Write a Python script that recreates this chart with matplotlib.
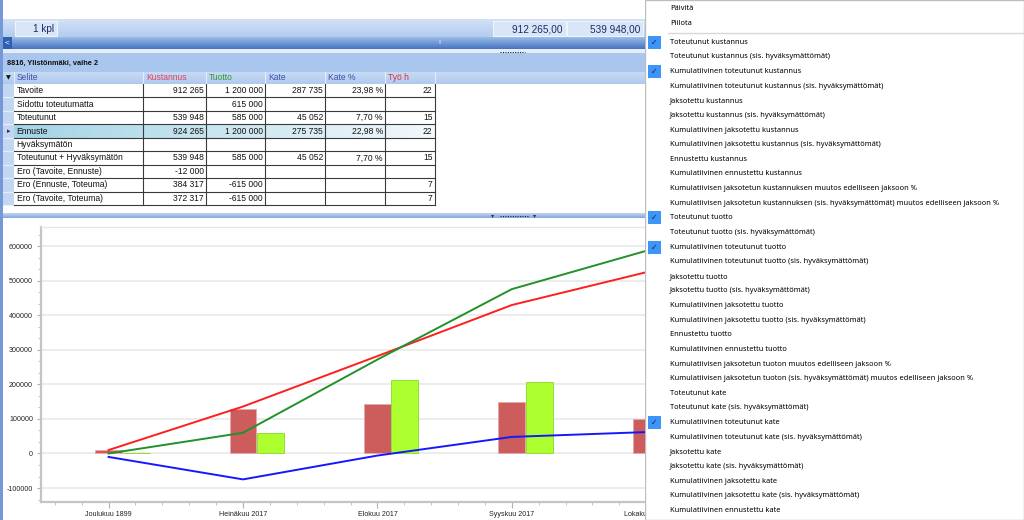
import numpy as np
import matplotlib
matplotlib.use("Agg")
import matplotlib.pyplot as plt
from matplotlib.patches import Rectangle
from matplotlib.colors import LinearSegmentedColormap
from matplotlib.textpath import TextPath
from matplotlib.font_manager import FontProperties
from matplotlib.ticker import MultipleLocator

# chart data
categories = ["Joulukuu 1899", "Heinäkuu 2017", "Elokuu 2017", "Syyskuu 2017", "Lokakuu 2017"]
toteutunut_kustannus = [10000, 128000, 144000, 150000, 99000]
toteutunut_tuotto = [2000, 60000, 212000, 206000, 110000]
kum_kustannus = [10000, 136000, 282000, 430000, 525000]
kum_tuotto = [0, 60000, 272000, 476000, 587000]
kum_kate = [-10000, -75000, -6000, 48000, 62000]

# table data
table_title = "8816, Ylistönmäki, vaihe 2"
columns = ["Selite", "Kustannus", "Tuotto", "Kate", "Kate %", "Työ h"]
column_colors = ["#3e4fa8", "#e2405c", "#2f9a2f", "#3e4fa8", "#3e4fa8", "#e0303c"]
row_labels = ["Tavoite", "Sidottu toteutumatta", "Toteutunut", "Ennuste", "Hyväksymätön",
              "Toteutunut + Hyväksymätön", "Ero (Tavoite, Ennuste)", "Ero (Ennuste, Toteuma)",
              "Ero (Tavoite, Toteuma)"]
kustannus_col = ["912 265", "", "539 948", "924 265", "", "539 948", "-12 000", "384 317", "372 317"]
tuotto_col = ["1 200 000", "615 000", "585 000", "1 200 000", "", "585 000", "", "-615 000", "-615 000"]
kate_col = ["287 735", "", "45 052", "275 735", "", "45 052", "", "", ""]
kate_pct_col = ["23,98 %", "", "7,70 %", "22,98 %", "", "7,70 %", "", "", ""]
tyo_col = ["22", "", "15", "22", "", "15", "", "7", "7"]
selected_row = 3

summary_count = "1 kpl"
summary_values = ["912 265,00", "539 948,00"]

# context menu
menu_top = ["Päivitä", "Piilota"]
menu_items = [
    "Toteutunut kustannus",
    "Toteutunut kustannus (sis. hyväksymättömät)",
    "Kumulatiivinen toteutunut kustannus",
    "Kumulatiivinen toteutunut kustannus (sis. hyväksymättömät)",
    "Jaksotettu kustannus",
    "Jaksotettu kustannus (sis. hyväksymättömät)",
    "Kumulatiivinen jaksotettu kustannus",
    "Kumulatiivinen jaksotettu kustannus (sis. hyväksymättömät)",
    "Ennustettu kustannus",
    "Kumulatiivinen ennustettu kustannus",
    "Kumulatiivisen jaksotetun kustannuksen muutos edelliseen jaksoon %",
    "Kumulatiivisen jaksotetun kustannuksen (sis. hyväksymättömät) muutos edelliseen jaksoon %",
    "Toteutunut tuotto",
    "Toteutunut tuotto (sis. hyväksymättömät)",
    "Kumulatiivinen toteutunut tuotto",
    "Kumulatiivinen toteutunut tuotto (sis. hyväksymättömät)",
    "Jaksotettu tuotto",
    "Jaksotettu tuotto (sis. hyväksymättömät)",
    "Kumulatiivinen jaksotettu tuotto",
    "Kumulatiivinen jaksotettu tuotto (sis. hyväksymättömät)",
    "Ennustettu tuotto",
    "Kumulatiivinen ennustettu tuotto",
    "Kumulatiivisen jaksotetun tuoton muutos edelliseen jaksoon %",
    "Kumulatiivisen jaksotetun tuoton (sis. hyväksymättömät) muutos edelliseen jaksoon %",
    "Toteutunut kate",
    "Toteutunut kate (sis. hyväksymättömät)",
    "Kumulatiivinen toteutunut kate",
    "Kumulatiivinen toteutunut kate (sis. hyväksymättömät)",
    "Jaksotettu kate",
    "Jaksotettu kate (sis. hyväksymättömät)",
    "Kumulatiivinen jaksotettu kate",
    "Kumulatiivinen jaksotettu kate (sis. hyväksymättömät)",
    "Kumulatiivinen ennustettu kate",
]
checked_items = [0, 2, 12, 14, 26]

W, H, DPI = 1024, 520, 100
UI_FONT = "Liberation Sans"
MENU_FONT = "Noto Sans"


def fit_size(text, target_px, family, weight="normal"):
    # font size (pt) that makes text about target_px wide
    w = TextPath((0, 0), text, size=10, prop=FontProperties(family=family, weight=weight)).get_extents().width
    return 10 * target_px / (w * DPI / 72)


table_fs = fit_size("Toteutunut + Hyväksymätön", 105, UI_FONT)
title_fs = fit_size(table_title, 90, UI_FONT, "bold")
top_fs = fit_size("912 265,00", 49, UI_FONT)
chart_fs = fit_size("Joulukuu 1899", 46, UI_FONT)
menu_fs = fit_size(menu_items[11], 327, MENU_FONT)


def px_axes(x0, y0, x1, y1, z=0):
    a = fig.add_axes([x0 / W, 1 - y1 / H, (x1 - x0) / W, (y1 - y0) / H])
    a.set_zorder(z)
    return a


def grad(ax, x0, y0, x1, y1, c0, c1, horizontal=False):
    g = np.linspace(0, 1, 64)
    g = g.reshape(1, -1) if horizontal else g.reshape(-1, 1)
    cmap = LinearSegmentedColormap.from_list("g", [c0, c1])
    ax.imshow(g, cmap=cmap, extent=(x0, x1, y1, y0), aspect="auto", interpolation="bilinear", zorder=1)


def rect(ax, x0, y0, x1, y1, fc, ec="none", lw=0.0, z=1):
    ax.add_patch(Rectangle((x0, y0), x1 - x0, y1 - y0, facecolor=fc, edgecolor=ec, linewidth=lw, zorder=z))


fig = plt.figure(figsize=(W / DPI, H / DPI), dpi=DPI)
fig.patch.set_facecolor("white")

# ---- window background ----
bg = px_axes(0, 0, W, H)
bg.set_axis_off()

rect(bg, 0, 0, 3, H, "#7598d8")

# summary bar
grad(bg, 3, 19, 645, 37, "#d2e1f6", "#b4ccef")
for x0, x1, txt in [(15, 57, summary_count), (493, 566, summary_values[0]), (567, 643, summary_values[1])]:
    rect(bg, x0, 21, x1, 36, "#d9e6f8", "#eef4fc", 0.8, z=2)
    bg.text(x1 - 3, 29, txt, ha="right", va="center", fontsize=top_fs, family=UI_FONT, color="#1e2a66", zorder=3)

# scroll bar
grad(bg, 3, 37, 645, 49, "#9bbcea", "#4674bf")
rect(bg, 3, 37, 12, 49, "#2f5fb3", z=2)
bg.text(7.5, 43, "<", ha="center", va="center", fontsize=6, color="white", family=UI_FONT, zorder=3)
bg.text(440, 43, "II", ha="center", va="center", fontsize=4, color="#c9dbf6", family=UI_FONT, zorder=3)

# splitter
rect(bg, 3, 49, 645, 53, "#e4edf9")
bg.plot([500, 525], [51.5, 51.5], color="#222222", lw=0.8, ls=(0, (1, 1.2)), zorder=3)

# table title band + header
rect(bg, 3, 53, 645, 72, "#a9c6ee")
bg.text(7, 63, table_title, ha="left", va="center", fontsize=title_fs, family=UI_FONT,
        weight="bold", color="#111111", zorder=3)
grad(bg, 3, 72, 645, 84, "#c8dbf4", "#afc9ee")

col_edges = [13.7, 143, 206, 265, 325, 385, 434.5]
for xe in col_edges:
    bg.plot([xe, xe], [72, 84], color="#e2ecfa", lw=0.8, zorder=3)
bg.text(8.5, 78, "▼", ha="center", va="center", fontsize=4.5, color="#111111", zorder=3)
for i, (name, c) in enumerate(zip(columns, column_colors)):
    bg.text(col_edges[i] + 3, 78, name, ha="left", va="center", fontsize=table_fs,
            family=UI_FONT, color=c, zorder=3)

# table rows
row_top, row_h = 84, 13.45
n_rows = len(row_labels)
rect(bg, 3, row_top, 13.7, row_top + n_rows * row_h, "#c3d7f3")
value_cols = [kustannus_col, tuotto_col, kate_col, kate_pct_col, tyo_col]
for r, label in enumerate(row_labels):
    y0 = row_top + r * row_h
    yc = y0 + row_h / 2
    if r == selected_row:
        grad(bg, 13.7, y0, 434.5, y0 + row_h, "#a4d4e6", "#f2f8fb", horizontal=True)
        bg.text(8.5, yc, "▸", ha="center", va="center", fontsize=5, color="#1a2a6a", zorder=3)
    bg.plot([3, 13.7], [y0 + row_h, y0 + row_h], color="#e6eefa", lw=0.8, zorder=3)
    bg.plot([13.7, 434.5], [y0 + row_h, y0 + row_h], color="#3a3a3a", lw=0.8, zorder=3)
    bg.text(col_edges[0] + 3, yc, label, ha="left", va="center", fontsize=table_fs,
            family=UI_FONT, color="#111111", zorder=4)
    for c, vals in enumerate(value_cols):
        if vals[r]:
            bg.text(col_edges[c + 2] - 2, yc, vals[r], ha="right", va="center", fontsize=table_fs,
                    family=UI_FONT, color="#111111", zorder=4)
for xe in col_edges[1:]:
    bg.plot([xe, xe], [row_top, row_top + n_rows * row_h], color="#3a3a3a", lw=0.8, zorder=3)

# splitter above chart
grad(bg, 3, 213, 645, 218, "#c2d5f1", "#84a7dd")
bg.plot([500, 528], [215.5, 215.5], color="#222222", lw=0.8, ls=(0, (1, 1.2)), zorder=3)
for xa in (493, 535):
    bg.text(xa, 215.5, "▾", ha="center", va="center", fontsize=4.5, color="#333333", zorder=3)

bg.set_xlim(0, W)
bg.set_ylim(H, 0)

# ---- chart ----
ax = px_axes(40.7, 227, 1015, 502, z=1)
x = np.arange(len(categories))
ax.bar(x, toteutunut_kustannus, width=0.2, color="#cd5c5c", edgecolor="#e5a9a9", linewidth=0.7, zorder=2)
ax.bar(x + 0.205, toteutunut_tuotto, width=0.2, color="#adff2f", edgecolor="#93dc36", linewidth=0.7, zorder=2)
ax.plot(x, kum_kustannus, color="#ff1e1e", lw=1.4, zorder=3)
ax.plot(x, kum_tuotto, color="#23912a", lw=1.4, zorder=3)
ax.plot(x, kum_kate, color="#1717ff", lw=1.4, zorder=3)

ax.set_xlim(-0.505, 6.744)
ax.set_ylim(-140500, 656000)
ax.set_xticks(x)
ax.set_xticklabels(categories)
ax.xaxis.set_minor_locator(MultipleLocator(0.2))
ax.yaxis.set_major_locator(MultipleLocator(100000))
ax.yaxis.set_minor_locator(MultipleLocator(100000 / 3))
ax.yaxis.set_major_formatter(matplotlib.ticker.FormatStrFormatter("%d"))
ax.grid(axis="y", which="major", color="#ebebeb", lw=1.3)
ax.set_axisbelow(True)
ax.spines["right"].set_visible(False)
ax.spines["top"].set_color("#e6e6e6")
ax.spines["top"].set_linewidth(1.0)
for s in ("left", "bottom"):
    ax.spines[s].set_color("#c4c4c4")
    ax.spines[s].set_linewidth(1.6)
ax.tick_params(which="major", length=3, width=0.8, color="#b0b0b0", labelsize=chart_fs,
               labelcolor="#222222", pad=2.5)
ax.tick_params(which="minor", length=2, width=0.6, color="#b8b8b8")
ax.tick_params(axis="x", which="major", length=4)
for lab in ax.get_xticklabels() + ax.get_yticklabels():
    lab.set_family(UI_FONT)

# ---- context menu ----
mn = px_axes(645, 0, W, H, z=3)
mn.set_axis_off()
rect(mn, 645, 0, W, H, "white", "#bdbdbd", 1.0)
for i, txt in enumerate(menu_top):
    mn.text(670, 8.3 + i * 15, txt, ha="left", va="center", fontsize=menu_fs, family=MENU_FONT, color="#000000", zorder=3)
mn.plot([668, W], [32.7, 32.7], color="#d7d7d7", lw=1.0, zorder=3)
for i, txt in enumerate(menu_items):
    yc = 42.3 + i * 14.625
    if i in checked_items:
        rect(mn, 648, yc - 6.5, 661, yc + 6.5, "#3d96f7", z=3)
        mn.text(654.5, yc, "✓", ha="center", va="center", fontsize=5.5, family="DejaVu Sans",
                color="#12204a", weight="bold", zorder=4)
    mn.text(670, yc, txt, ha="left", va="center", fontsize=menu_fs, family=MENU_FONT, color="#000000", zorder=3)
mn.set_xlim(645, W)
mn.set_ylim(H, 0)

fig.savefig("out.png", dpi=DPI)
